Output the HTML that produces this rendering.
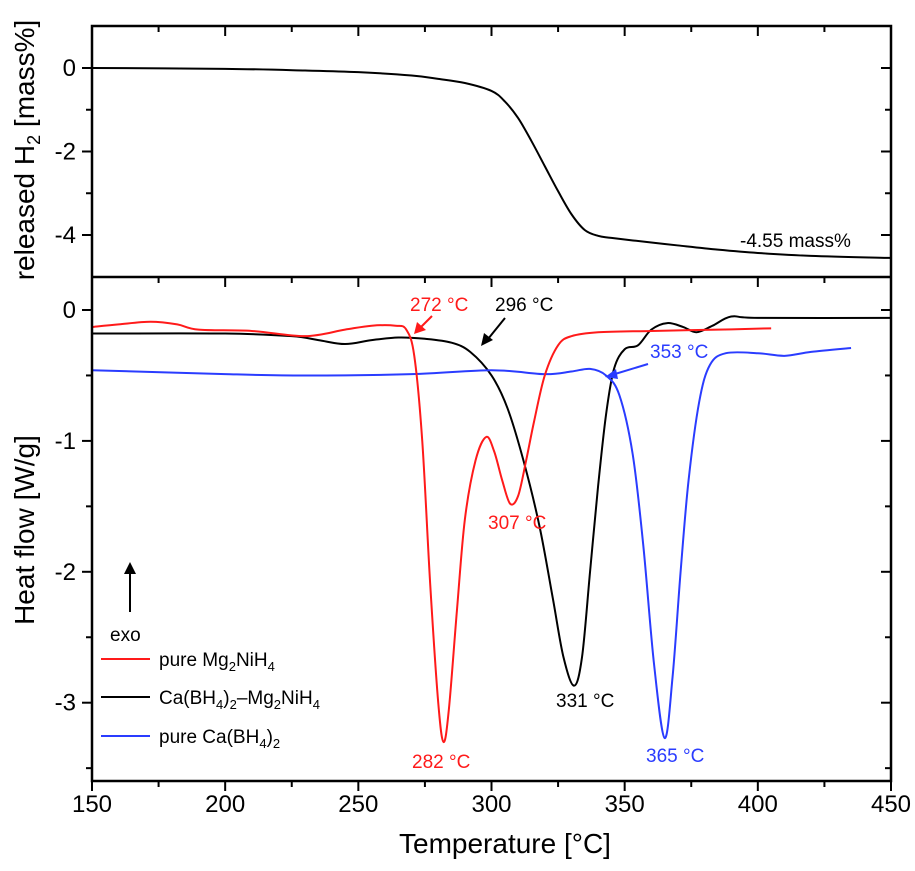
<!DOCTYPE html>
<html><head><meta charset="utf-8"><style>
body{margin:0;background:#fff}
svg{font-family:"Liberation Sans",Arial,sans-serif}
</style></head><body>
<svg id="c" width="915" height="866" viewBox="0 0 915 866" xmlns="http://www.w3.org/2000/svg"></svg>
<script>
const tgaT=[150,200,230,250,270,280,290,300,305,310,315,320,325,330,335,340,345,360,370,385,400,420,450];
const tgaV=[0,-0.02,-0.06,-0.1,-0.18,-0.26,-0.36,-0.55,-0.8,-1.2,-1.75,-2.35,-2.95,-3.5,-3.88,-4.02,-4.07,-4.18,-4.25,-4.35,-4.43,-4.5,-4.55];
const redT=[150,160,172,182,190,210,230,245,255,264,268,271,274,277,280,282,284,287,290,294,298,301,304,307,310,313,316,320,325,330,340,360,385,405];
const redV=[-0.13,-0.11,-0.09,-0.11,-0.15,-0.16,-0.2,-0.15,-0.12,-0.12,-0.15,-0.35,-1.0,-2.1,-3.0,-3.3,-3.05,-2.3,-1.6,-1.15,-0.97,-1.08,-1.3,-1.48,-1.42,-1.15,-0.85,-0.5,-0.27,-0.2,-0.17,-0.16,-0.15,-0.14];
const blkT=[150,200,225,235,245,255,265,275,285,292,300,306,312,318,323,327,331,334,337,340,343,346,350,355,360,366,372,377,383,390,400,450];
const blkV=[-0.18,-0.18,-0.2,-0.23,-0.26,-0.23,-0.21,-0.22,-0.25,-0.32,-0.5,-0.75,-1.15,-1.65,-2.2,-2.65,-2.87,-2.65,-2.0,-1.35,-0.8,-0.45,-0.3,-0.27,-0.15,-0.1,-0.13,-0.17,-0.12,-0.05,-0.06,-0.06];
const bluT=[150,200,230,270,300,320,330,337,343,348,353,357,361,365,368,371,374,378,382,388,400,410,420,435];
const bluV=[-0.46,-0.49,-0.5,-0.49,-0.46,-0.49,-0.47,-0.45,-0.5,-0.65,-1.1,-1.8,-2.7,-3.27,-2.8,-2.0,-1.3,-0.7,-0.42,-0.33,-0.33,-0.35,-0.32,-0.29];
const xTicks=[150,200,250,300,350,400,450];
const topTicks=[0,-2,-4];
const botTicks=[0,-1,-2,-3];

const L=92,R=891,T1=26,B1=277,B2=781;
const X=t=>L+(t-150)*(R-L)/300;
const Y1=v=>68-v*41.75;
const Y2=v=>310-v*130.9;
const svg=document.getElementById('c');
const NS='http://www.w3.org/2000/svg';
function mk(tag,at,txt){const e=document.createElementNS(NS,tag);for(const k in at)e.setAttribute(k,at[k]);if(txt!==undefined)e.textContent=txt;svg.appendChild(e);return e;}
function path(ts,vs,Y){const p=ts.map((t,i)=>[X(t),Y(vs[i])]);let d='M'+p[0][0]+','+p[0][1];
for(let i=0;i<p.length-1;i++){const p0=p[Math.max(0,i-1)],p1=p[i],p2=p[i+1],p3=p[Math.min(p.length-1,i+2)];
d+=' C'+(p1[0]+(p2[0]-p0[0])/6)+','+(p1[1]+(p2[1]-p0[1])/6)+' '+(p2[0]-(p3[0]-p1[0])/6)+','+(p2[1]-(p3[1]-p1[1])/6)+' '+p2[0]+','+p2[1];}return d;}

let e;
e=mk('path',{d:path(tgaT,tgaV,Y1),fill:'none',stroke:'#000','stroke-width':2});


e=mk('path',{d:path(blkT,blkV,Y2),fill:'none',stroke:'#000','stroke-width':2});


e=mk('path',{d:path(bluT,bluV,Y2),fill:'none',stroke:'#2a3cff','stroke-width':2});


e=mk('path',{d:path(redT,redV,Y2),fill:'none',stroke:'#ff1a1a','stroke-width':2});



e=mk('rect',{x:L,y:T1,width:R-L,height:B2-T1,fill:'none',stroke:'#000','stroke-width':2.5});


e=mk('line',{x1:L,x2:R,y1:B1,y2:B1,stroke:'#000','stroke-width':2.5});



for(let t=150;t<=450;t+=25){const maj=t%50===0,x=X(t);
mk('line',{x1:x,x2:x,y1:B2,y2:B2+(maj?10:6),stroke:'#000','stroke-width':2});
mk('line',{x1:x,x2:x,y1:T1,y2:T1+(maj?10:6),stroke:'#000','stroke-width':2});
mk('line',{x1:x,x2:x,y1:B1,y2:B1+(maj?10:6),stroke:'#000','stroke-width':2});}
xTicks.forEach(t=>{e=mk('text',{x:X(t),y:812,'font-size':24,'text-anchor':'middle'},String(t));

});
for(let v=1;v>=-5;v-=1){if(v>0.9||v<-4.9)continue;const y=Y1(v),maj=v%2===0;
mk('line',{x1:L-(maj?10:6),x2:L,y1:y,y2:y,stroke:'#000','stroke-width':2});
mk('line',{x1:R-(maj?10:6),x2:R,y1:y,y2:y,stroke:'#000','stroke-width':2});}
topTicks.forEach(v=>{e=mk('text',{x:L-16,y:Y1(v)+8,'font-size':24,'text-anchor':'end'},String(v));

});
for(let v=0;v>=-3.5;v-=0.5){const y=Y2(v),maj=Number.isInteger(v);
mk('line',{x1:L-(maj?10:6),x2:L,y1:y,y2:y,stroke:'#000','stroke-width':2});
mk('line',{x1:R-(maj?10:6),x2:R,y1:y,y2:y,stroke:'#000','stroke-width':2});}
botTicks.forEach(v=>{e=mk('text',{x:L-16,y:Y2(v)+8,'font-size':24,'text-anchor':'end'},String(v));

});
</script>
<svg width="915" height="866" style="position:absolute;left:0;top:0" xmlns="http://www.w3.org/2000/svg" font-family="Liberation Sans, Arial, sans-serif">
<text x="505" y="853" font-size="28" text-anchor="middle">Temperature [°C]</text>
<text transform="translate(34,150) rotate(-90)" font-size="28" text-anchor="middle">released H<tspan font-size="18" dy="6">2</tspan><tspan dy="-6"> [mass%]</tspan></text>
<text transform="translate(34,530) rotate(-90)" font-size="28" text-anchor="middle">Heat flow [W/g]</text>
<text x="740" y="247" font-size="19">-4.55 mass%</text>
<g><line x1="130" y1="612" x2="130" y2="572" stroke="#000" stroke-width="2"/><polygon points="124,574 136,574 130,562" fill="#000"/><text x="110" y="641" font-size="19">exo</text></g>
<g font-size="19">
<line x1="101" x2="150" y1="659" y2="659" stroke="#ff1a1a" stroke-width="2"/><text x="159" y="666">pure Mg<tspan font-size="13" dy="5">2</tspan><tspan dy="-5">NiH</tspan><tspan font-size="13" dy="5">4</tspan></text>
<line x1="101" x2="150" y1="697" y2="697" stroke="#000" stroke-width="2"/><text x="159" y="704">Ca(BH<tspan font-size="13" dy="5">4</tspan><tspan dy="-5">)</tspan><tspan font-size="13" dy="5">2</tspan><tspan dy="-5">–Mg</tspan><tspan font-size="13" dy="5">2</tspan><tspan dy="-5">NiH</tspan><tspan font-size="13" dy="5">4</tspan></text>
<line x1="101" x2="150" y1="736" y2="736" stroke="#2a3cff" stroke-width="2"/><text x="159" y="743">pure Ca(BH<tspan font-size="13" dy="5">4</tspan><tspan dy="-5">)</tspan><tspan font-size="13" dy="5">2</tspan></text>
</g>
<g font-size="19">
<text x="410" y="311" fill="#ff1a1a">272 °C</text>
<g><line x1="432" y1="316" x2="420" y2="328" stroke="#ff1a1a" stroke-width="2"/><polygon points="414,334 417,322 426,330" fill="#ff1a1a"/></g>
<text x="495" y="311">296 °C</text>
<g><line x1="505" y1="318" x2="488" y2="339" stroke="#000" stroke-width="2"/><polygon points="481,346 484,333 493,340" fill="#000"/></g>
<text x="650" y="358" fill="#2a3cff">353 °C</text>
<g><line x1="648" y1="364" x2="615" y2="374" stroke="#2a3cff" stroke-width="2"/><polygon points="605,377 616,369 618,379" fill="#2a3cff"/></g>
<text x="488" y="529" fill="#ff1a1a">307 °C</text>
<text x="412" y="768" fill="#ff1a1a">282 °C</text>
<text x="556" y="707">331 °C</text>
<text x="646" y="762" fill="#2a3cff">365 °C</text>
</g>
</svg>
</body></html>
